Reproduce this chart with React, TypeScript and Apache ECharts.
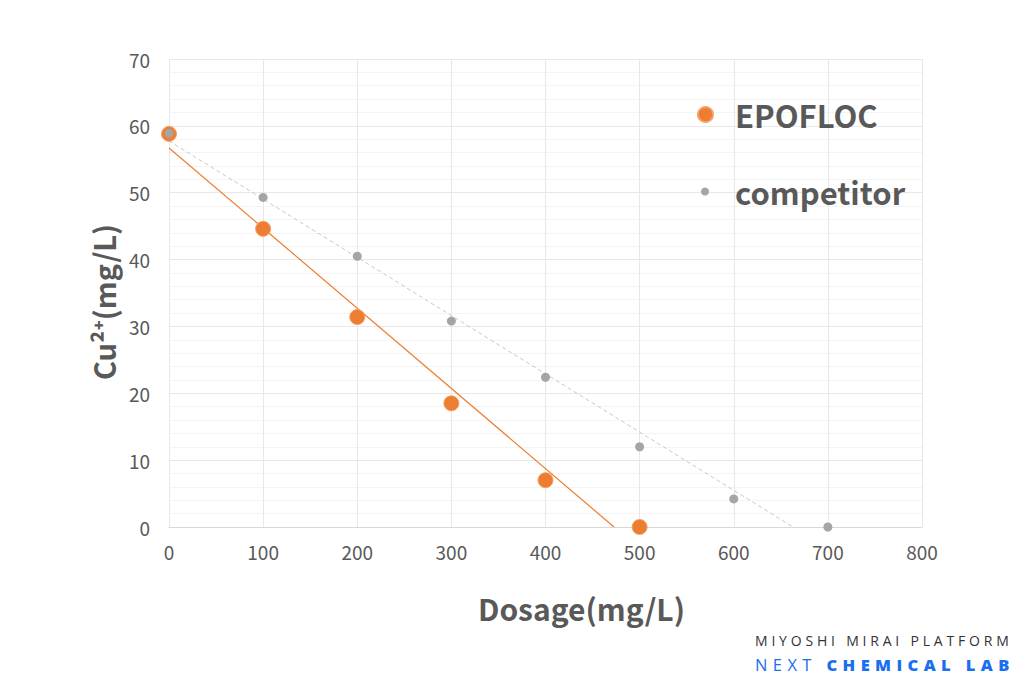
import React, { useEffect, useRef } from "react";
import * as echarts from "echarts";

const dosage = [0, 100, 200, 300, 400, 500];
const epofloc = [58.8, 44.6, 31.4, 18.5, 7.0, 0];
const competitorDosage = [0, 100, 200, 300, 400, 500, 600, 700];
const competitor = [58.9, 49.3, 40.5, 30.8, 22.4, 12.0, 4.2, 0];

const ORANGE = "#ED7D31";
const GRAY = "#A5A5A5";
const TEXT = "#595959";
const FONT = "'Noto Sans CJK JP', 'Noto Sans', sans-serif";

function trend(xs: number[], ys: number[]): number[][] {
  const n = xs.length;
  const mx = xs.reduce((a, b) => a + b, 0) / n;
  const my = ys.reduce((a, b) => a + b, 0) / n;
  let sxy = 0;
  let sxx = 0;
  for (let i = 0; i < n; i++) {
    sxy += (xs[i] - mx) * (ys[i] - my);
    sxx += (xs[i] - mx) * (xs[i] - mx);
  }
  const m = sxy / sxx;
  const b = my - m * mx;
  return [
    [0, b],
    [-b / m, 0],
  ];
}

export default function App() {
  const ref = useRef<HTMLDivElement>(null);
  useEffect(() => {
    if (!ref.current) return;
    const chart = echarts.init(ref.current, undefined, { renderer: "svg" });
    chart.setOption({
      animation: false,
      backgroundColor: "#ffffff",
      grid: { left: 169, right: 102, top: 59, bottom: 156 },
      legend: [
        {
          data: [{ name: "EPOFLOC", icon: "circle" }],
          left: 692,
          top: 94,
          itemWidth: 15,
          itemHeight: 15,
          textStyle: { color: TEXT, fontSize: 31, fontWeight: "bold", fontFamily: FONT, padding: [0, 0, 0, 17] },
          selectedMode: false,
        },
        {
          data: [{ name: "competitor", icon: "circle" }],
          left: 696,
          top: 171,
          itemWidth: 8,
          itemHeight: 8,
          textStyle: { color: TEXT, fontSize: 31, fontWeight: "bold", fontFamily: FONT, padding: [0, 0, 0, 21] },
          selectedMode: false,
        },
      ],
      xAxis: {
        type: "value",
        min: 0,
        max: 800,
        interval: 100,
        name: "Dosage(mg/L)",
        nameLocation: "middle",
        nameGap: 66,
        nameTextStyle: { color: TEXT, fontSize: 30, fontWeight: "bold", fontFamily: FONT, padding: [0, 0, 0, 72] },
        axisLine: { show: true, lineStyle: { color: "#D9D9D9" } },
        axisTick: { show: false },
        axisLabel: { color: TEXT, fontSize: 19, fontFamily: FONT, margin: 15 },
        splitLine: { show: true, lineStyle: { color: "#E8E8E8" } },
      },
      yAxis: {
        type: "value",
        min: 0,
        max: 70,
        interval: 10,
        name: "Cu²⁺(mg/L)",
        nameLocation: "middle",
        nameGap: 52,
        nameRotate: 90,
        nameTextStyle: { color: TEXT, fontSize: 29, fontWeight: "bold", fontFamily: FONT, padding: [0, 18, 0, 0] },
        axisLine: { show: false },
        axisTick: { show: false },
        axisLabel: { color: TEXT, fontSize: 19, fontFamily: FONT, margin: 19 },
        splitLine: { show: true, lineStyle: { color: "#E8E8E8" } },
        minorTick: { show: false, splitNumber: 5 },
        minorSplitLine: { show: true, lineStyle: { color: "#F4F4F4" } },
      },
      series: [
        {
          name: "EPOFLOC trend",
          type: "line",
          data: trend(dosage, epofloc),
          symbol: "none",
          silent: true,
          lineStyle: { color: ORANGE, width: 1.2 },
          z: 1,
        },
        {
          name: "competitor trend",
          type: "line",
          data: trend(competitorDosage, competitor),
          symbol: "none",
          silent: true,
          lineStyle: { color: "#C8C8C8", width: 1, type: [4, 3] },
          z: 1,
        },
        {
          name: "EPOFLOC",
          type: "scatter",
          data: dosage.map((d, i) => [d, epofloc[i]]),
          symbolSize: 15,
          itemStyle: { color: ORANGE, borderColor: "#F4A26C", borderWidth: 1, opacity: 1 },
          z: 3,
        },
        {
          name: "competitor",
          type: "scatter",
          data: competitorDosage.map((d, i) => [d, competitor[i]]),
          symbolSize: 9,
          itemStyle: { color: GRAY, opacity: 1 },
          z: 4,
        },
      ],
    });
    return () => chart.dispose();
  }, []);

  return (
    <div style={{ position: "fixed", left: 0, top: 0, width: 1024, height: 683, background: "#fff" }}>
      <div ref={ref} style={{ position: "absolute", left: 0, top: 0, width: 1024, height: 683 }} />
      <div
        style={{
          position: "absolute",
          left: 755,
          top: 631,
          fontFamily: "'Open Sans', sans-serif",
          fontSize: 14,
          letterSpacing: 3.8,
          color: "#333333",
          lineHeight: "20px",
          whiteSpace: "nowrap",
        }}
      >
        MIYOSHI MIRAI PLATFORM
      </div>
      <div
        style={{
          position: "absolute",
          left: 755,
          top: 654,
          fontFamily: "'Open Sans', sans-serif",
          fontSize: 16.5,
          letterSpacing: 5.4,
          color: "#1A6EF0",
          lineHeight: "22px",
          whiteSpace: "nowrap",
        }}
      >
        NEXT <span style={{ fontWeight: 800 }}>CHEMICAL LAB</span>
      </div>
    </div>
  );
}
